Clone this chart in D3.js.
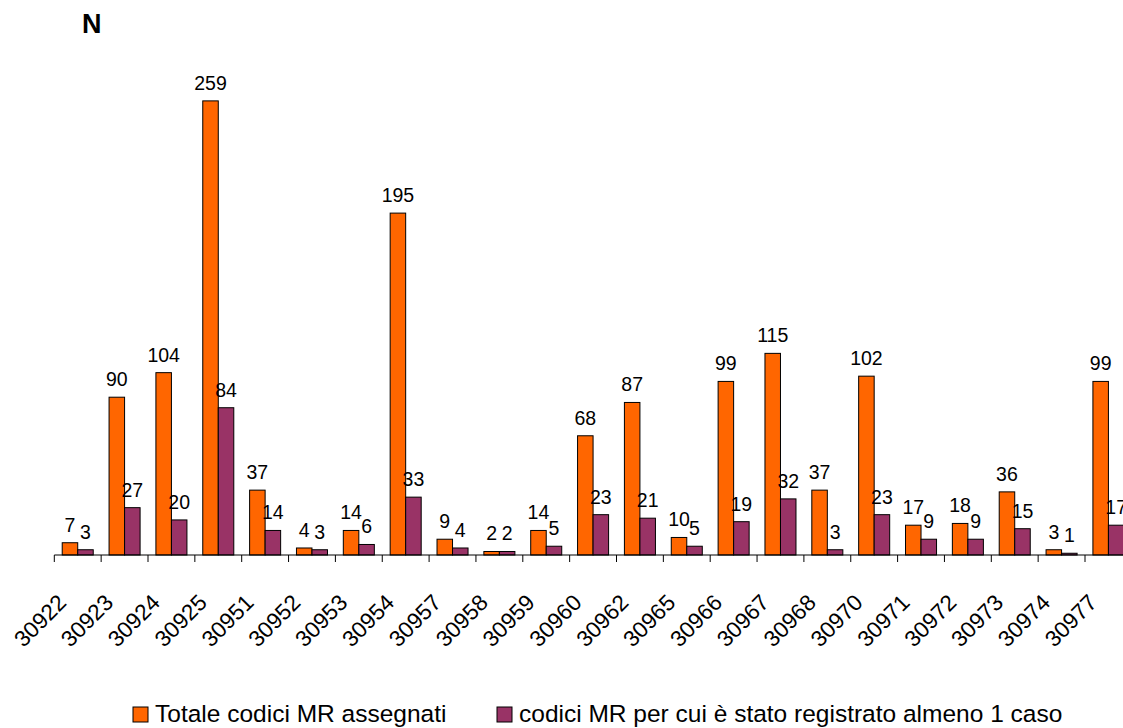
<!DOCTYPE html>
<html>
<head>
<meta charset="utf-8">
<script src="https://cdn.jsdelivr.net/npm/d3@7"></script>
<style>
  html, body { margin: 0; padding: 0; background: #fff; }
  svg { display: block; font-family: "Liberation Sans", Arial, sans-serif; }
</style>
</head>
<body>
<svg id="chart" width="1123" height="728"></svg>
<script>
const categories = ["30922","30923","30924","30925","30951","30952","30953","30954","30957","30958","30959","30960","30962","30965","30966","30967","30968","30970","30971","30972","30973","30974","30977"];
const seriesNames = ["Totale codici MR assegnati", "codici MR per cui è stato registrato almeno 1 caso"];
const totale = [7, 90, 104, 259, 37, 4, 14, 195, 9, 2, 14, 68, 87, 10, 99, 115, 37, 102, 17, 18, 36, 3, 99];
const registrati = [3, 27, 20, 84, 14, 3, 6, 33, 4, 2, 5, 23, 21, 5, 19, 32, 3, 23, 9, 9, 15, 1, 17];
const colors = ["#FF6600", "#993366"];

const svg = d3.select("#chart");
const baseY = 555;

const x0 = d3.scaleBand().domain(categories).range([54.3, 54.3 + 23 * 46.85]).padding(0);
const x1 = d3.scaleBand().domain([0, 1]).range([0, x0.bandwidth()]).paddingInner(0).paddingOuter(0.51);
const y = d3.scaleLinear().domain([0, 300]).range([baseY, 29]);

const data = categories.map((c, i) => ({ cat: c, vals: [totale[i], registrati[i]] }));

const g = svg.append("g");
const groups = g.selectAll("g.grp").data(data).join("g")
  .attr("transform", d => `translate(${x0(d.cat)},0)`);

groups.selectAll("rect").data(d => d.vals.map((v, k) => ({ v, k }))).join("rect")
  .attr("x", d => x1(d.k))
  .attr("y", d => y(d.v))
  .attr("width", x1.bandwidth())
  .attr("height", d => baseY - y(d.v))
  .attr("fill", d => colors[d.k])
  .attr("stroke", "#000")
  .attr("stroke-width", 1);

groups.selectAll("text.val").data(d => d.vals.map((v, k) => ({ v, k }))).join("text")
  .attr("class", "val")
  .attr("x", d => x1(d.k) + x1.bandwidth() / 2)
  .attr("y", d => y(d.v) - 11)
  .attr("text-anchor", "middle")
  .attr("font-size", 19.5)
  .attr("fill", "#000")
  .text(d => d.v);

// x axis line and ticks at band boundaries
svg.append("line")
  .attr("x1", x0.range()[0]).attr("x2", 1123)
  .attr("y1", baseY).attr("y2", baseY)
  .attr("stroke", "#000").attr("stroke-width", 1);

const boundaries = categories.map(c => x0(c)).concat([x0.range()[1]]);
svg.selectAll("line.tick").data(boundaries).join("line")
  .attr("class", "tick")
  .attr("x1", d => d).attr("x2", d => d)
  .attr("y1", baseY).attr("y2", baseY + 7)
  .attr("stroke", "#000").attr("stroke-width", 1);

svg.selectAll("text.cat").data(categories).join("text")
  .attr("class", "cat")
  .attr("text-anchor", "end")
  .attr("font-size", 22.5)
  .attr("transform", c => `translate(${x0(c) + x0.bandwidth() / 2 - 10},604) rotate(-45)`)
  .text(c => c);

// Y label
svg.append("text")
  .attr("x", 82).attr("y", 33)
  .attr("font-size", 27).attr("font-weight", "bold")
  .text("N");

// Legend
const legendItems = [
  { name: seriesNames[0], color: colors[0], x: 133 },
  { name: seriesNames[1], color: colors[1], x: 497 }
];
const lg = svg.selectAll("g.leg").data(legendItems).join("g")
  .attr("transform", d => `translate(${d.x},0)`);
lg.append("rect")
  .attr("x", 0).attr("y", 707).attr("width", 15).attr("height", 15)
  .attr("fill", d => d.color).attr("stroke", "#000").attr("stroke-width", 1);
lg.append("text")
  .attr("x", 22).attr("y", 722)
  .attr("font-size", 24.5)
  .text(d => d.name);
</script>
</body>
</html>
